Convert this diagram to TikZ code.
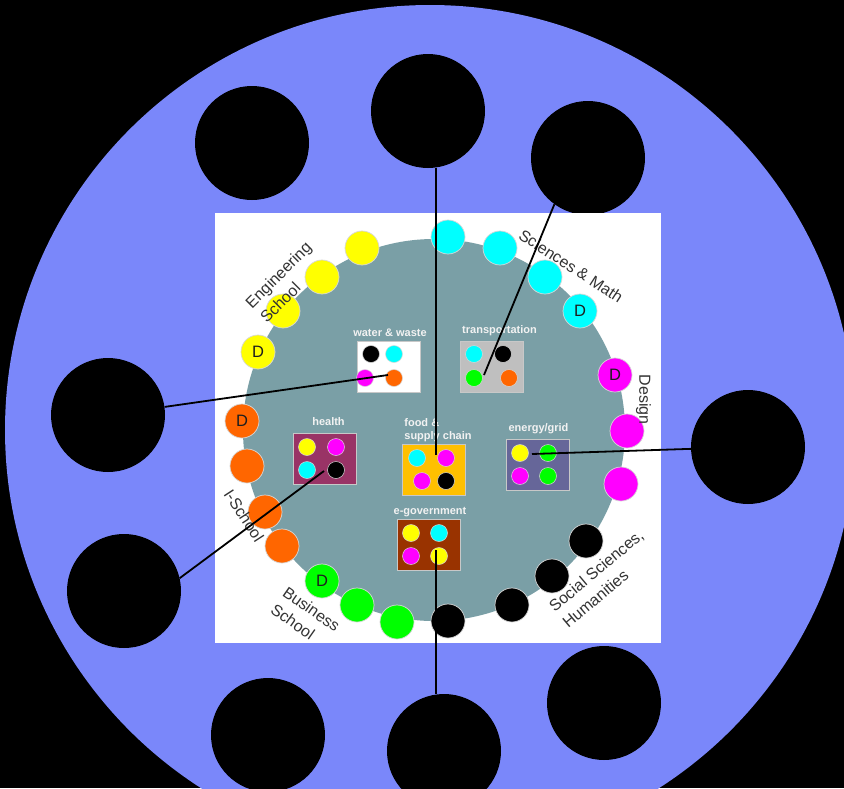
\documentclass[tikz,border=0pt]{standalone}
\usepackage{fontspec}
\setmainfont{Liberation Sans}
\usepackage{xcolor}
\usetikzlibrary{positioning}

\definecolor{campus}{RGB}{122,135,250}
\definecolor{core}{RGB}{122,159,166}
\definecolor{dotrim}{RGB}{215,215,215}
\definecolor{boxrim}{RGB}{200,200,200}
\definecolor{schooltext}{RGB}{51,51,51}
\definecolor{dtext}{RGB}{30,30,30}
\definecolor{tagtext}{RGB}{242,242,242}
\definecolor{cYellow}{RGB}{255,255,0}
\definecolor{cCyan}{RGB}{0,255,255}
\definecolor{cMagenta}{RGB}{255,0,255}
\definecolor{cGreen}{RGB}{0,255,0}
\definecolor{cOrange}{RGB}{255,102,0}
\definecolor{ltgray}{RGB}{191,191,191}
\definecolor{plum}{RGB}{153,51,102}
\definecolor{amber}{RGB}{255,192,0}
\definecolor{slate}{RGB}{102,102,153}
\definecolor{rust}{RGB}{153,51,0}

\begin{document}
\begin{tikzpicture}[
    x=1pt, y=-1pt,
    hub/.style={circle, fill=black, minimum size=114pt, inner sep=0pt},
    dot/.style={circle, draw=dotrim, line width=0.7pt, minimum size=34pt, inner sep=0pt,
                font=\fontsize{16.5}{18}\selectfont, text=dtext},
    pip/.style={circle, draw=dotrim, line width=0.5pt, minimum size=17pt, inner sep=0pt},
    area/.style={rectangle, draw=boxrim, line width=0.8pt, minimum width=63pt,
                 minimum height=51pt, inner sep=0pt},
    tag/.style={font=\fontsize{11}{13}\selectfont\bfseries, text=tagtext, inner sep=0pt, align=left},
    school/.style={font=\fontsize{16}{21}\selectfont, text=schooltext, inner sep=0pt, align=left},
    link/.style={line width=1.8pt, color=black}
]

% Frame and campus disc
\useasboundingbox (0,0) rectangle (844,788);
\clip (0,0) rectangle (844,788);
\fill[black] (0,0) rectangle (844,788);
\fill[campus] (430,430) circle[radius=425pt];

% Outer hubs
\node[hub] (hub1) at (252,143) {};
\node[hub] (hub2) at (428,111) {};
\node[hub] (hub3) at (588,158) {};
\node[hub] (hub4) at (108,415) {};
\node[hub] (hub5) at (748,447) {};
\node[hub] (hub6) at (124,591) {};
\node[hub] (hub7) at (268,735) {};
\node[hub] (hub8) at (444,751) {};
\node[hub] (hub9) at (604,703) {};

% Panel and core
\fill[white] (215,213) rectangle (661,643);
\fill[core] (434,430) circle[radius=191pt];

% School dots
\node[dot, fill=cYellow] (eng1) at (362,248) {};
\node[dot, fill=cYellow] (eng2) at (322,277) {};
\node[dot, fill=cYellow] (eng3) at (283,311) {};
\node[dot, fill=cYellow] (eng4) at (258,352) {D};
\node[dot, fill=cCyan] (sci1) at (448,237) {};
\node[dot, fill=cCyan] (sci2) at (500,248) {};
\node[dot, fill=cCyan] (sci3) at (545,277) {};
\node[dot, fill=cCyan] (sci4) at (580,311) {D};
\node[dot, fill=cMagenta] (des1) at (615,375) {D};
\node[dot, fill=cMagenta] (des2) at (627,431) {};
\node[dot, fill=cMagenta] (des3) at (621,484) {};
\node[dot, fill=black] (soc1) at (586,541) {};
\node[dot, fill=black] (soc2) at (552,576) {};
\node[dot, fill=black] (soc3) at (512,605) {};
\node[dot, fill=black] (soc4) at (448,621) {};
\node[dot, fill=cGreen] (bus1) at (397,622) {};
\node[dot, fill=cGreen] (bus2) at (357,605) {};
\node[dot, fill=cGreen] (bus3) at (322,581) {D};
\node[dot, fill=cOrange] (isc1) at (242,421) {D};
\node[dot, fill=cOrange] (isc2) at (247,466) {};
\node[dot, fill=cOrange] (isc3) at (265,512) {};
\node[dot, fill=cOrange] (isc4) at (282,546) {};

% School labels
\node[school, rotate=45]  (lblEng) at (285.7,282.2) {Engineering\\School};
\node[school, rotate=-33] (lblSci) at (571,266) {Sciences \& Math};
\node[school, rotate=-90] (lblDes) at (643.5,399.5) {Design};
\node[school, rotate=40]  (lblSoc) at (602.9,578.6) {Social Sciences,\\Humanities};
\node[school, rotate=-35] (lblBus) at (305.5,617.6) {Business\\School};
\node[school, rotate=-57] (lblISc) at (244,515.5) {I-School};

% Theme boxes
\node[area, fill=white]  (water)     at (388.5,366.5) {};
\node[area, fill=ltgray] (transport) at (491.5,366.5) {};
\node[area, fill=plum]   (health)    at (325,458.5) {};
\node[area, fill=amber]  (food)      at (434,470) {};
\node[area, fill=slate]  (energy)    at (537.5,464.5) {};
\node[area, fill=rust]   (egov)      at (428.5,545) {};

\node[tag] (tagWater)  at (390,333)     {water \& waste};
\node[tag] (tagTrans)  at (499.5,330.5) {transportation};
\node[tag] (tagHealth) at (328.5,422)   {health};
\node[tag] (tagFood)   at (438,430)     {food \&\\supply chain};
\node[tag] (tagEnergy) at (538.5,428.5) {energy/grid};
\node[tag] (tagEgov)   at (430,512)     {e-government};

% Pips in the boxes
\node[pip, fill=black]    (wwK)  at (371,354) {};
\node[pip, fill=cCyan]    (wwC)  at (394,354) {};
\node[pip, fill=cMagenta] (wwM)  at (365,378) {};
\node[pip, fill=cOrange]  (wwO)  at (394,378) {};
\node[pip, fill=cCyan]    (trC)  at (474,354) {};
\node[pip, fill=black]    (trK)  at (503,354) {};
\node[pip, fill=cGreen]   (trG)  at (474,378) {};
\node[pip, fill=cOrange]  (trO)  at (509,378) {};
\node[pip, fill=cYellow]  (heY)  at (307,447) {};
\node[pip, fill=cMagenta] (heM)  at (336,447) {};
\node[pip, fill=cCyan]    (heC)  at (307,470) {};
\node[pip, fill=black]    (heK)  at (336,470) {};
\node[pip, fill=cCyan]    (fdC)  at (417,458) {};
\node[pip, fill=cMagenta] (fdM)  at (446,458) {};
\node[pip, fill=cMagenta] (fdM2) at (422,481) {};
\node[pip, fill=black]    (fdK)  at (446,481) {};
\node[pip, fill=cYellow]  (enY)  at (520,453) {};
\node[pip, fill=cGreen]   (enG)  at (548,453) {};
\node[pip, fill=cMagenta] (enM)  at (520,476) {};
\node[pip, fill=cGreen]   (enG2) at (548,476) {};
\node[pip, fill=cYellow]  (egY)  at (411,533) {};
\node[pip, fill=cCyan]    (egC)  at (439,533) {};
\node[pip, fill=cMagenta] (egM)  at (411,556) {};
\node[pip, fill=cYellow]  (egY2) at (439,556) {};

% Connectors
\coordinate (foodEnd)   at (436,455);
\coordinate (transEnd)  at (484,375);
\coordinate (waterEnd)  at (388,375);
\coordinate (gridEnd)   at (532,454);
\coordinate (healthEnd) at (324,471);
\coordinate (egovEnd)   at (436,550);

\draw[link] (foodEnd |- hub2.south) -- (foodEnd);
\draw[link] (hub3.234) -- (transEnd);
\draw[link] (hub4) -- (waterEnd);
\draw[link] (hub5) -- (gridEnd);
\draw[link] (hub6.13) -- (healthEnd);
\draw[link] (egovEnd) -- (egovEnd |- hub8.north);

\end{tikzpicture}
\end{document}
